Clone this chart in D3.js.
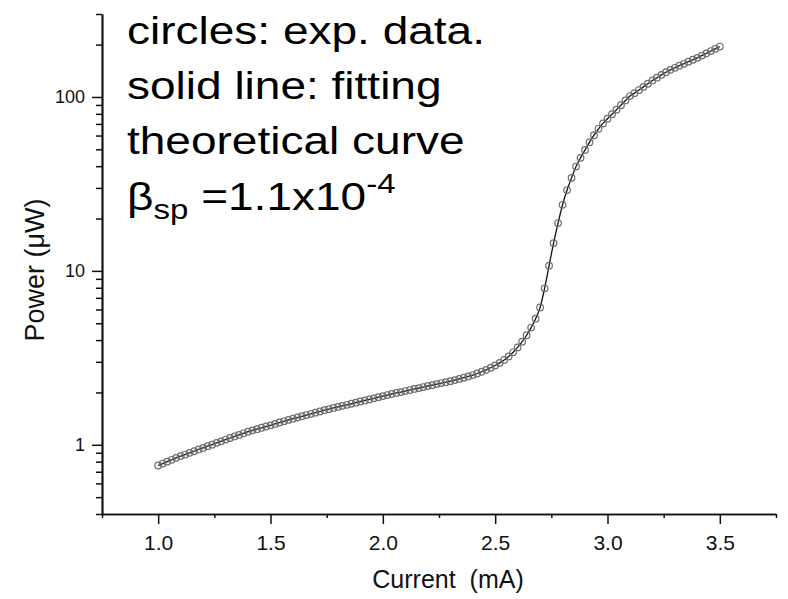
<!DOCTYPE html>
<html>
<head>
<meta charset="utf-8">
<script src="https://cdn.jsdelivr.net/npm/d3@7"></script>
<style>
  body { margin: 0; background: #fff; }
  svg { display: block; font-family: "Liberation Sans", Arial, sans-serif; }
</style>
</head>
<body>
<svg id="chart" width="788" height="599"></svg>
<script>
// data: current (mA) vs optical power (uW)
const current = [
  1.00, 1.02, 1.04, 1.06, 1.08, 1.10, 1.12, 1.14, 1.16, 1.18,
  1.20, 1.22, 1.24, 1.26, 1.28, 1.30, 1.32, 1.34, 1.36, 1.38,
  1.40, 1.42, 1.44, 1.46, 1.48, 1.50, 1.52, 1.54, 1.56, 1.58,
  1.60, 1.62, 1.64, 1.66, 1.68, 1.70, 1.72, 1.74, 1.76, 1.78,
  1.80, 1.82, 1.84, 1.86, 1.88, 1.90, 1.92, 1.94, 1.96, 1.98,
  2.00, 2.02, 2.04, 2.06, 2.08, 2.10, 2.12, 2.14, 2.16, 2.18,
  2.20, 2.22, 2.24, 2.26, 2.28, 2.30, 2.32, 2.34, 2.36, 2.38,
  2.40, 2.42, 2.44, 2.46, 2.48, 2.50, 2.52, 2.54, 2.56, 2.58,
  2.60, 2.62, 2.64, 2.66, 2.68, 2.70, 2.72, 2.74, 2.76, 2.78,
  2.80, 2.82, 2.84, 2.86, 2.88, 2.90, 2.92, 2.94, 2.96, 2.98,
  3.00, 3.02, 3.04, 3.06, 3.08, 3.10, 3.12, 3.14, 3.16, 3.18,
  3.20, 3.22, 3.24, 3.26, 3.28, 3.30, 3.32, 3.34, 3.36, 3.38,
  3.40, 3.42, 3.44, 3.46, 3.48, 3.50
];
const power = [
  0.760, 0.780, 0.800, 0.820, 0.841, 0.861, 0.879, 0.899, 0.918, 0.940,
  0.959, 0.982, 1.002, 1.026, 1.047, 1.072, 1.094, 1.117, 1.140, 1.164,
  1.189, 1.211, 1.230, 1.253, 1.274, 1.294, 1.318, 1.343, 1.365, 1.390,
  1.413, 1.435, 1.459, 1.483, 1.507, 1.531, 1.556, 1.581, 1.603, 1.629,
  1.652, 1.675, 1.698, 1.722, 1.746, 1.774, 1.799, 1.824, 1.849, 1.879,
  1.905, 1.932, 1.959, 1.986, 2.009, 2.037, 2.065, 2.094, 2.118, 2.148,
  2.178, 2.203, 2.234, 2.265, 2.291, 2.323, 2.355, 2.393, 2.432, 2.472,
  2.518, 2.570, 2.630, 2.698, 2.773, 2.858, 2.958, 3.076, 3.221, 3.404,
  3.631, 3.917, 4.266, 4.721, 5.309, 6.166, 7.943, 10.72, 14.45, 18.84,
  23.99, 29.17, 34.28, 39.81, 44.67, 49.55, 54.95, 60.26, 65.61, 70.47,
  74.99, 79.62, 84.53, 89.74, 95.50, 101.2, 105.2, 109.6, 114.3, 119.1,
  124.5, 129.1, 134.0, 138.7, 143.2, 147.2, 151.4, 155.2, 159.6, 163.7,
  167.9, 173.0, 178.2, 183.7, 189.2, 195.0
];

const xMajorTicks = [1.0, 1.5, 2.0, 2.5, 3.0, 3.5];
const xMinorTicks = [0.75, 1.25, 1.75, 2.25, 2.75, 3.25, 3.75];
const yMajorTicks = [1, 10, 100];
const yMinorTicks = [0.4, 0.5, 0.6, 0.7, 0.8, 0.9, 2, 3, 4, 5, 6, 7, 8, 9,
  20, 30, 40, 50, 60, 70, 80, 90, 200, 300];

const xTitle = "Current  (mA)";
const yTitle = "Power (\u03bcW)";
const noteLines = ["circles: exp. data.", "solid line: fitting", "theoretical curve"];

const svg = d3.select("#chart");
const points = current.map((c, i) => ({ x: c, y: power[i] }));

const x = d3.scaleLinear().domain([0.75, 3.75]).range([102, 776]);
const y = d3.scaleLog().domain([0.4, 300]).range([514, 14]);

// axes
function styleAxis(g) {
  g.selectAll("path.domain").attr("stroke", "#111").attr("stroke-width", 1.7);
  g.selectAll(".tick line").attr("stroke", "#111").attr("stroke-width", 1.5);
}

svg.append("g")
  .attr("transform", "translate(0,514)")
  .call(d3.axisBottom(x).tickValues(xMinorTicks).tickSize(4).tickSizeOuter(0).tickFormat(""))
  .call(styleAxis);

const xAxis = svg.append("g")
  .attr("transform", "translate(0,514)")
  .call(d3.axisBottom(x).tickValues(xMajorTicks).tickSize(10).tickSizeOuter(0).tickPadding(11)
    .tickFormat(d3.format(".1f")))
  .call(styleAxis);
xAxis.selectAll("text").attr("font-size", 21).attr("fill", "#111").attr("font-family", null);

svg.append("g")
  .attr("transform", "translate(102,0)")
  .call(d3.axisLeft(y).tickValues(yMinorTicks).tickSize(6).tickSizeOuter(0).tickFormat(""))
  .call(styleAxis);

const yAxis = svg.append("g")
  .attr("transform", "translate(102,0)")
  .call(d3.axisLeft(y).tickValues(yMajorTicks).tickSize(10).tickSizeOuter(0).tickPadding(7)
    .tickFormat(d3.format("d")))
  .call(styleAxis);
yAxis.selectAll("text").attr("font-size", 18).attr("fill", "#111").attr("font-family", null);

// axis titles
svg.append("text")
  .attr("x", 448)
  .attr("y", 588)
  .attr("text-anchor", "middle")
  .attr("font-size", 25)
  .attr("fill", "#111")
  .style("white-space", "pre")
  .text(xTitle);

svg.append("text")
  .attr("transform", "translate(44,270) rotate(-90)")
  .attr("text-anchor", "middle")
  .attr("font-size", 27)
  .attr("fill", "#111")
  .text(yTitle);

// fitted curve and measured points
const line = d3.line()
  .x((d) => x(d.x))
  .y((d) => y(d.y))
  .curve(d3.curveMonotoneX);

svg.append("path")
  .datum(points)
  .attr("fill", "none")
  .attr("stroke", "#111")
  .attr("stroke-width", 1.3)
  .attr("d", line);

svg.append("g")
  .selectAll("circle")
  .data(points)
  .enter()
  .append("circle")
  .attr("cx", (d) => x(d.x))
  .attr("cy", (d) => y(d.y))
  .attr("r", 3.3)
  .attr("fill", "none")
  .attr("stroke", "#6e6e6e")
  .attr("stroke-width", 1.2);

// annotation block
const note = svg.append("g")
  .attr("transform", "translate(127,0) scale(1.18,1)")
  .attr("font-size", 39)
  .attr("fill", "#000");

note.selectAll("text.note")
  .data(noteLines)
  .enter()
  .append("text")
  .classed("note", true)
  .attr("x", 0)
  .attr("y", (d, i) => 44 + i * 55)
  .text((d) => d);

const beta = note.append("text").attr("x", 0).attr("y", 210);
beta.append("tspan").text("\u03b2");
beta.append("tspan").attr("font-size", 28).attr("dy", 9).text("sp");
beta.append("tspan").attr("dy", -9).text(" =1.1x10");
beta.append("tspan").attr("font-size", 28).attr("dy", -17).text("-4");
</script>
</body>
</html>
